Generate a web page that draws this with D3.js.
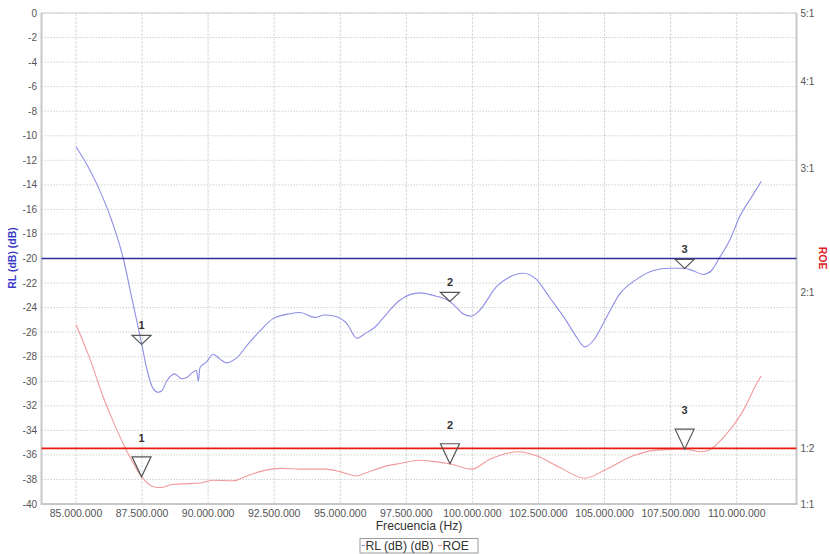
<!DOCTYPE html>
<html><head><meta charset="utf-8">
<script src="https://cdn.jsdelivr.net/npm/d3@7"></script>
<style>
html,body{margin:0;padding:0;background:#fff;}
svg text{font-family:"Liberation Sans",Arial,sans-serif;}
</style>
</head><body>
<svg id="c" width="830" height="554"></svg>
<script>
// ---- data ----
const rlFreq = [85.00,85.40,85.78,86.35,86.79,87.11,87.49,87.67,87.92,88.11,88.24,88.43,88.74,89.00,89.19,89.40,89.56,89.63,89.69,89.95,90.19,90.45,90.70,91.08,91.50,91.96,92.46,93.09,93.47,94.04,94.40,94.80,95.25,95.63,95.95,96.31,96.80,97.25,98.01,98.50,99.15,99.40,99.64,99.97,100.28,100.91,101.41,101.91,102.42,102.93,103.56,103.94,104.25,104.57,105.07,105.57,106.21,106.83,107.47,108.03,108.35,108.73,109.04,109.36,109.74,110.11,110.56,110.93];
const rlValues = [-10.9,-12.3,-13.9,-16.9,-20.0,-23.2,-27.0,-28.9,-30.6,-30.9,-30.8,-30.0,-29.4,-29.8,-29.7,-29.3,-29.1,-30.0,-28.9,-28.4,-27.8,-28.2,-28.5,-28.1,-27.0,-25.9,-24.9,-24.5,-24.4,-24.8,-24.6,-24.7,-25.3,-26.5,-26.1,-25.6,-24.4,-23.4,-22.8,-23.0,-23.5,-24.0,-24.5,-24.7,-24.2,-22.3,-21.5,-21.2,-21.7,-23.2,-25.1,-26.4,-27.2,-26.7,-24.8,-22.9,-21.7,-21.0,-20.8,-20.8,-21.0,-21.3,-21.0,-19.9,-18.5,-16.6,-15.0,-13.7];
const roeFreq = [85.00,85.50,86.03,86.41,86.92,87.49,87.86,88.18,88.68,89.31,89.69,90.19,90.95,91.46,91.96,92.72,93.47,94.48,94.98,95.62,95.99,96.75,97.25,98.01,98.50,99.15,99.97,100.66,101.79,102.42,103.31,104.25,105.07,106.08,106.96,108.03,108.66,108.98,109.61,110.24,110.81,110.93];
const roeValues = [1.80,1.62,1.42,1.31,1.19,1.093,1.061,1.055,1.067,1.069,1.071,1.081,1.079,1.096,1.112,1.124,1.121,1.121,1.112,1.096,1.108,1.133,1.142,1.154,1.150,1.141,1.121,1.158,1.187,1.171,1.127,1.088,1.121,1.171,1.193,1.197,1.187,1.195,1.257,1.357,1.497,1.522];
const markerFreq = [87.48, 99.15, 108.03];
const markerRL = [-27.0, -23.5, -20.8];
const markerROE = [1.093, 1.141, 1.197];
const markerLabels = ["1","2","3"];
const rlLimit = -20;
const roeLimit = 1.2;
const xTicks = [85,87.5,90,92.5,95,97.5,100,102.5,105,107.5,110];
const xTickLabels = ["85.000.000","87.500.000","90.000.000","92.500.000","95.000.000","97.500.000","100.000.000","102.500.000","105.000.000","107.500.000","110.000.000"];
const yTicks = d3.range(0,-41,-2);
const y2Ticks = [1,1.2,2,3,4,5];
const y2TickLabels = ["1:1","1:2","2:1","3:1","4:1","5:1"];

// ---- layout ----
const L = 41.5, R = 796.5, T = 13, B = 504;
const svg = d3.select("#c");
const x = d3.scaleLinear().domain([83.695,112.263]).range([L,R]);
const y = d3.scaleLinear().domain([-40,0]).range([B,T]);
const y2 = d3.scaleLog().domain([1,5]).range([B,T]);

// grid
const g = svg.append("g");
g.selectAll(".hg").data(yTicks).join("line")
  .attr("x1",L).attr("x2",R).attr("y1",d=>y(d)).attr("y2",d=>y(d))
  .attr("stroke","#d0d0d0").attr("stroke-width",1).attr("stroke-dasharray","1.5,1.5");
g.selectAll(".vg").data(xTicks).join("line")
  .attr("x1",d=>x(d)).attr("x2",d=>x(d)).attr("y1",T).attr("y2",B)
  .attr("stroke","#dadada").attr("stroke-width",1).attr("stroke-dasharray","3,1");

// frame
svg.append("rect").attr("x",L).attr("y",T).attr("width",R-L).attr("height",B-T)
  .attr("fill","none").attr("stroke","#d0d0d0").attr("stroke-width",1);
svg.append("line").attr("x1",L).attr("x2",L).attr("y1",T).attr("y2",B+1).attr("stroke","#c8c8c8").attr("stroke-width",2);
svg.append("line").attr("x1",L).attr("x2",R+1).attr("y1",B).attr("y2",B).attr("stroke","#c8c8c8").attr("stroke-width",2);
svg.append("line").attr("x1",R).attr("x2",R).attr("y1",T).attr("y2",B+1).attr("stroke","#c8c8c8").attr("stroke-width",2);

// curves
const rlData = rlFreq.map((f,i)=>[f,rlValues[i]]);
const roeData = roeFreq.map((f,i)=>[f,roeValues[i]]);
svg.append("path").datum(rlData)
  .attr("d",d3.line().x(d=>x(d[0])).y(d=>y(d[1])).curve(d3.curveMonotoneX))
  .attr("fill","none").attr("stroke","#8e8ee6").attr("stroke-width",1.1);
svg.append("path").datum(roeData)
  .attr("d",d3.line().x(d=>x(d[0])).y(d=>y2(d[1])).curve(d3.curveMonotoneX))
  .attr("fill","none").attr("stroke","#f29a9a").attr("stroke-width",1.1);

// limit lines
svg.append("line").attr("x1",L).attr("x2",R).attr("y1",y(rlLimit)).attr("y2",y(rlLimit))
  .attr("stroke","#2d2d9e").attr("stroke-width",1.6);
svg.append("line").attr("x1",L).attr("x2",R).attr("y1",y2(roeLimit)).attr("y2",y2(roeLimit))
  .attr("stroke","#e8180f").attr("stroke-width",1.6);

// markers
const mk = markerFreq.map((f,i)=>({f, rl:markerRL[i], roe:markerROE[i], lab:markerLabels[i]}));
function tri(cx,cy,hw,h){return `M${cx},${cy}L${cx-hw},${cy-h}L${cx+hw},${cy-h}Z`;}
svg.selectAll(".mb").data(mk).join("path")
  .attr("d",d=>tri(x(d.f),y(d.rl),9.5,9))
  .attr("fill","none").attr("stroke","#555").attr("stroke-width",1.2);
svg.selectAll(".mbt").data(mk).join("text")
  .attr("x",d=>x(d.f)).attr("y",d=>y(d.rl)-15).attr("text-anchor","middle")
  .attr("font-size",11).attr("font-weight","bold").attr("fill","#333").text(d=>d.lab);
svg.selectAll(".mr").data(mk).join("path")
  .attr("d",d=>tri(x(d.f),y2(d.roe),9.5,20))
  .attr("fill","none").attr("stroke","#555").attr("stroke-width",1.2);
svg.selectAll(".mrt").data(mk).join("text")
  .attr("x",d=>x(d.f)).attr("y",d=>y2(d.roe)-35).attr("text-anchor","middle")
  .attr("font-size",11).attr("font-weight","bold").attr("fill","#333").text(d=>d.lab);

// axes labels
svg.selectAll(".yl").data(yTicks).join("text")
  .attr("x",37).attr("y",d=>y(d)+3.5).attr("text-anchor","end")
  .attr("font-size",10).attr("fill","#555").text(d=>d);
svg.selectAll(".y2l").data(y2Ticks).join("text")
  .attr("x",800.5).attr("y",d=>y2(d)+3.5).attr("text-anchor","start")
  .attr("font-size",10).attr("fill","#555").text((d,i)=>y2TickLabels[i]);
svg.selectAll(".xl").data(xTicks).join("text")
  .attr("x",d=>x(d)).attr("y",517).attr("text-anchor","middle")
  .attr("font-size",10.5).attr("fill","#555").text((d,i)=>xTickLabels[i]);

// titles
svg.append("text").attr("transform","translate(16,258) rotate(-90)").attr("text-anchor","middle")
  .attr("font-size",10.5).attr("font-weight","bold").attr("fill","#3a3ac8").text("RL (dB) (dB)");
svg.append("text").attr("transform","translate(819,258) rotate(90)").attr("text-anchor","middle")
  .attr("font-size",10.5).attr("font-weight","bold").attr("fill","#e02020").text("ROE");
svg.append("text").attr("x",(L+R)/2).attr("y",530).attr("text-anchor","middle")
  .attr("font-size",12.2).attr("fill","#333").text("Frecuencia (Hz)");

// legend
const lg = svg.append("g");
lg.append("rect").attr("x",360).attr("y",538.5).attr("width",118).attr("height",14.5)
  .attr("fill","#fff").attr("stroke","#9a9a9a").attr("stroke-width",1);
lg.append("line").attr("x1",361.5).attr("x2",365).attr("y1",545.5).attr("y2",545.5).attr("stroke","#8e8ee6").attr("stroke-width",1.2);
lg.append("text").attr("x",365.5).attr("y",550).attr("font-size",12.2).attr("fill","#333").text("RL (dB) (dB)");
lg.append("line").attr("x1",438).attr("x2",442).attr("y1",545.5).attr("y2",545.5).attr("stroke","#f29a9a").attr("stroke-width",1.2);
lg.append("text").attr("x",442.5).attr("y",550).attr("font-size",12.2).attr("fill","#333").text("ROE");
</script>
</body></html>
